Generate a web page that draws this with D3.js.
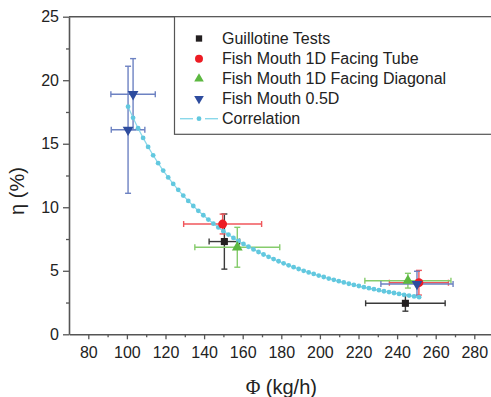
<!DOCTYPE html>
<html>
<head>
<meta charset="utf-8">
<script src="https://cdn.jsdelivr.net/npm/d3@7"></script>
<style>
  html, body { margin: 0; padding: 0; background: #fff; }
  svg { display: block; font-family: "Liberation Sans", Arial, sans-serif; }
</style>
</head>
<body>
<svg id="chart" width="491" height="397"></svg>
<script>
// Mass flow Φ (kg/h) and efficiency η (%) with error half-widths
const guillotinePhi = [150.5, 244.3];
const guillotineEta = [7.3, 2.44];
const guillotineErrX = [7.9, 20.6];
const guillotineErrY = [2.17, 0.62];

const tubePhi = [149.6, 251.3];
const tubeEta = [8.68, 4.06];
const tubeErrX = [20.2, 15.3];
const tubeErrY = [0.78, 0.97];

const diagonalPhi = [157.2, 245.6];
const diagonalEta = [6.85, 4.22];
const diagonalErrX = [22.0, 22.3];
const diagonalErrY = [1.57, 0.58];

const halfDPhi = [103.2, 100.6, 250.3];
const halfDEta = [18.9, 16.1, 3.96];
const halfDErrX = [11.5, 8.7, 18.7];
const halfDErrY = [2.8, 5.0, 1.0];

// Correlation curve samples
const corrPhi = [100.6, 103.2, 105.8, 108.4, 111.0, 113.6, 116.2, 118.8, 121.4, 124.0,
  126.6, 129.2, 131.8, 134.4, 137.0, 139.6, 142.2, 144.8, 147.4, 150.0,
  152.6, 155.2, 157.8, 160.4, 163.0, 165.6, 168.2, 170.8, 173.4, 176.0,
  178.6, 181.2, 183.8, 186.4, 189.0, 191.6, 194.2, 196.8, 199.4, 202.0,
  204.6, 207.2, 209.8, 212.4, 215.0, 217.6, 220.2, 222.8, 225.4, 228.0,
  230.6, 233.2, 235.8, 238.4, 241.0, 243.6, 246.2, 248.8, 251.4];
const corrEta = [17.92, 17.04, 16.22, 15.46, 14.75, 14.09, 13.47, 12.89, 12.35, 11.84,
  11.37, 10.92, 10.50, 10.10, 9.72, 9.37, 9.03, 8.71, 8.41, 8.12,
  7.85, 7.59, 7.35, 7.11, 6.89, 6.68, 6.48, 6.28, 6.10, 5.92,
  5.75, 5.59, 5.43, 5.28, 5.14, 5.00, 4.87, 4.75, 4.62, 4.51,
  4.39, 4.29, 4.18, 4.08, 3.98, 3.89, 3.80, 3.71, 3.63, 3.55,
  3.47, 3.39, 3.32, 3.25, 3.18, 3.11, 3.05, 2.98, 2.92];

const xMajor = [80, 100, 120, 140, 160, 180, 200, 220, 240, 260, 280];
const xMinor = [90, 110, 130, 150, 170, 190, 210, 230, 250, 270];
const yMajor = [0, 5, 10, 15, 20, 25];
const yMinor = [2.5, 7.5, 12.5, 17.5, 22.5];

const legendLabels = ["Guillotine Tests", "Fish Mouth 1D Facing Tube",
  "Fish Mouth 1D Facing Diagonal", "Fish Mouth 0.5D", "Correlation"];

const svg = d3.select("#chart");
const plotLeft = 69, plotRight = 493.6, plotTop = 16.7, plotBottom = 334.3;

const x = d3.scaleLinear().domain([70, 290]).range([plotLeft, plotRight]);
const y = d3.scaleLinear().domain([0, 25]).range([plotBottom, plotTop]);

const axisColor = "#555";

// frame top edge
svg.append("line")
  .attr("x1", plotLeft).attr("x2", plotRight)
  .attr("y1", plotTop).attr("y2", plotTop)
  .attr("stroke", axisColor).attr("stroke-width", 1.6);

// x axis
const gx = svg.append("g").attr("transform", `translate(0,${plotBottom})`);
gx.call(d3.axisBottom(x).tickValues(xMajor).tickSize(5).tickPadding(7).tickSizeOuter(0));
gx.append("g").call(d3.axisBottom(x).tickValues(xMinor).tickSize(3).tickFormat("").tickSizeOuter(0))
  .select(".domain").remove();

// y axis
const gy = svg.append("g").attr("transform", `translate(${plotLeft},0)`);
gy.call(d3.axisLeft(y).tickValues(yMajor).tickSize(6).tickPadding(4).tickSizeOuter(0));
gy.append("g").call(d3.axisLeft(y).tickValues(yMinor).tickSize(3).tickFormat("").tickSizeOuter(0))
  .select(".domain").remove();

svg.selectAll(".domain").attr("stroke", axisColor).attr("stroke-width", 1.6);
svg.selectAll(".tick line").attr("stroke", axisColor).attr("stroke-width", 1.3);
svg.selectAll(".tick text").attr("font-size", 16).attr("fill", "#222")
  .attr("font-family", "'Liberation Sans', Arial, sans-serif");

// axis titles (Greek symbols set in a serif face)
const xTitle = svg.append("text")
  .attr("x", (plotLeft + plotRight) / 2).attr("y", 394)
  .attr("text-anchor", "middle").attr("font-size", 20).attr("fill", "#222");
xTitle.append("tspan").attr("font-family", "'Liberation Serif', serif").text("Φ");
xTitle.append("tspan").text(" (kg/h)");

const yTitle = svg.append("text")
  .attr("transform", "translate(24,191) rotate(-90)")
  .attr("text-anchor", "middle").attr("font-size", 20).attr("fill", "#222");
yTitle.append("tspan").text("η");
yTitle.append("tspan").text(" (%)");

// series definitions
const series = [
  { phi: guillotinePhi, eta: guillotineEta, ex: guillotineErrX, ey: guillotineErrY,
    fill: "#231f20", bar: "#3a3a3a", symbol: d3.symbolSquare, size: 50, rot: 0 },
  { phi: tubePhi, eta: tubeEta, ex: tubeErrX, ey: tubeErrY,
    fill: "#ed1c24", bar: "#f0565b", symbol: d3.symbolCircle, size: 62, rot: 0 },
  { phi: diagonalPhi, eta: diagonalEta, ex: diagonalErrX, ey: diagonalErrY,
    fill: "#5cb841", bar: "#86cc6c", symbol: d3.symbolTriangle, size: 50, rot: 0 },
  { phi: halfDPhi, eta: halfDEta, ex: halfDErrX, ey: halfDErrY,
    fill: "#2e4c9e", bar: "#6d82c2", symbol: d3.symbolTriangle, size: 50, rot: 180 }
];

const cap = 3;
const plot = svg.append("g");

series.forEach(s => {
  const g = plot.append("g");
  s.phi.forEach((p, i) => {
    const cx = x(p), cy = y(s.eta[i]);
    const x0 = x(p - s.ex[i]), x1 = x(p + s.ex[i]);
    const y0 = y(s.eta[i] - s.ey[i]), y1 = y(s.eta[i] + s.ey[i]);
    const segs = [
      [x0, cy, x1, cy], [x0, cy - cap, x0, cy + cap], [x1, cy - cap, x1, cy + cap],
      [cx, y0, cx, y1], [cx - cap, y0, cx + cap, y0], [cx - cap, y1, cx + cap, y1]
    ];
    g.selectAll(null).data(segs).enter().append("line")
      .attr("x1", d => d[0]).attr("y1", d => d[1])
      .attr("x2", d => d[2]).attr("y2", d => d[3])
      .attr("stroke", s.bar).attr("stroke-width", 1.4);
  });
});

// correlation curve
const corr = corrPhi.map((p, i) => [p, corrEta[i]]);
plot.append("path")
  .datum(corr)
  .attr("d", d3.line().x(d => x(d[0])).y(d => y(d[1])))
  .attr("fill", "none").attr("stroke", "#8ad8ea").attr("stroke-width", 1.2);
plot.selectAll(".cdot").data(corr).enter().append("circle")
  .attr("cx", d => x(d[0])).attr("cy", d => y(d[1])).attr("r", 2.4)
  .attr("fill", "#62c8df");

// markers
series.forEach(s => {
  plot.selectAll(null).data(s.phi.map((p, i) => [p, s.eta[i]])).enter().append("path")
    .attr("d", d3.symbol().type(s.symbol).size(s.size))
    .attr("transform", d => `translate(${x(d[0])},${y(d[1])}) rotate(${s.rot})`)
    .attr("fill", s.fill);
});

// legend
const lg = svg.append("g");
lg.append("rect")
  .attr("x", 174.5).attr("y", plotTop).attr("width", 340).attr("height", 134.3 - plotTop)
  .attr("fill", "#fff").attr("stroke", axisColor).attr("stroke-width", 1.2);

const rowY = [38.5, 58.7, 78.7, 98.7, 118.7];
series.forEach((s, i) => {
  lg.append("path")
    .attr("d", d3.symbol().type(s.symbol).size(s.size * 0.8))
    .attr("transform", `translate(199,${rowY[i]}) rotate(${s.rot})`)
    .attr("fill", s.fill);
});
lg.append("line").attr("x1", 180).attr("x2", 193).attr("y1", rowY[4]).attr("y2", rowY[4])
  .attr("stroke", "#8ad8ea").attr("stroke-width", 1.4);
lg.append("line").attr("x1", 205).attr("x2", 218).attr("y1", rowY[4]).attr("y2", rowY[4])
  .attr("stroke", "#8ad8ea").attr("stroke-width", 1.4);
lg.append("circle").attr("cx", 199).attr("cy", rowY[4]).attr("r", 2.4).attr("fill", "#62c8df");

lg.selectAll(".ltext").data(legendLabels).enter().append("text")
  .attr("x", 222).attr("y", (d, i) => rowY[i] + 5.6)
  .attr("font-size", 16).attr("fill", "#222")
  .text(d => d);
</script>
</body>
</html>
